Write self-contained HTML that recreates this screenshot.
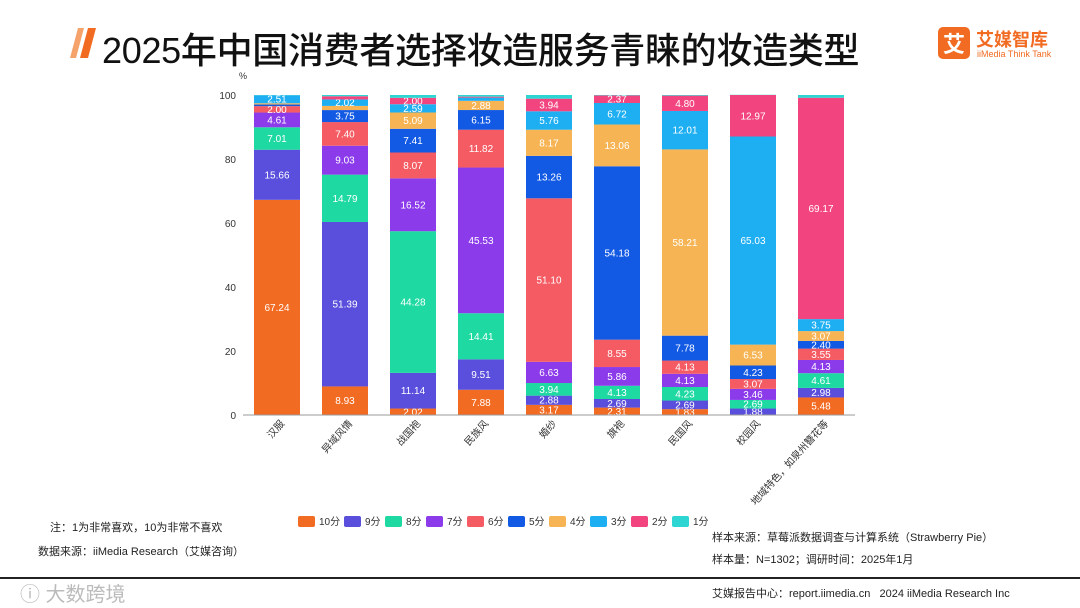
<!DOCTYPE html>
<html><head><meta charset="utf-8">
<style>
body{margin:0;background:#fff;}
#wrap{position:relative;width:1080px;height:608px;overflow:hidden;background:#fff;font-family:"Liberation Sans","Noto Sans CJK SC",sans-serif;}
.t{position:absolute;white-space:nowrap;color:#222;}
</style></head><body>
<div id="wrap">
<svg width="80" height="40" style="position:absolute;left:60px;top:24px">
<polygon points="10,34 18,4 24,4 16,34" fill="#F5A26B"/>
<polygon points="20,34 28,4 36,4 28,34" fill="#F26B22"/>
</svg>
<div class="t" style="left:102px;top:22px;font-size:36px;font-weight:500;color:#111;letter-spacing:-0.3px;">2025年中国消费者选择妆造服务青睐的妆造类型</div>
<div style="position:absolute;left:938px;top:27px;width:32px;height:32px;background:#F26B22;border-radius:5px;color:#fff;font-size:22px;font-weight:bold;text-align:center;line-height:32px;font-family:'Noto Sans CJK SC',sans-serif;">艾</div>
<div class="t" style="left:976px;top:26px;font-size:18px;font-weight:bold;color:#F26B22;">艾媒智库</div>
<div class="t" style="left:977px;top:49px;font-size:9px;color:#F26B22;">iiMedia Think Tank</div>
<svg id="chart" width="1080" height="608" style="position:absolute;left:0;top:0"></svg>
<div class="t" style="left:50px;top:519px;font-size:11px;">注：1为非常喜欢，10为非常不喜欢</div>
<div class="t" style="left:38px;top:543px;font-size:11px;">数据来源：iiMedia Research（艾媒咨询）</div>
<div class="t" style="left:712px;top:529px;font-size:11px;">样本来源：草莓派数据调查与计算系统（Strawberry Pie）</div>
<div class="t" style="left:712px;top:551px;font-size:11px;">样本量：N=1302；调研时间：2025年1月</div>
<div style="position:absolute;left:0;top:577px;width:1080px;height:2px;background:#222;"></div>
<div class="t" style="left:712px;top:585px;font-size:11px;">艾媒报告中心：report.iimedia.cn&nbsp;&nbsp;&nbsp;2024 iiMedia Research Inc</div>
<div class="t" style="left:20px;top:578px;font-size:20px;color:#bbb;">ⓘ 大数跨境</div>
</div>
<script>
const categories=["汉服","异域风情","战国袍","民族风","婚纱","旗袍","民国风","校园风","地域特色，如泉州簪花等"];
const seriesNames=["10分","9分","8分","7分","6分","5分","4分","3分","2分","1分"];
const colors=["#F26B22","#5A4FDC","#1FD9A2","#8B3BEA","#F45B63","#1259E3","#F7B454","#1EAFF2","#F2457F","#2DD5D3"];
const s10=[67.24,8.93,2.02,7.88,3.17,2.31,1.83,0.14,5.48];
const s9=[15.66,51.39,11.14,9.51,2.88,2.69,2.69,1.88,2.98];
const s8=[7.01,14.79,44.28,14.41,3.94,4.13,4.23,2.69,4.61];
const s7=[4.61,9.03,16.52,45.53,6.63,5.86,4.13,3.46,4.13];
const s6=[2.00,7.40,8.07,11.82,51.10,8.55,4.13,3.07,3.55];
const s5=[0.50,3.75,7.41,6.15,13.26,54.18,7.78,4.23,2.40];
const s4=[0.40,1.30,5.09,2.88,8.17,13.06,58.21,6.53,3.07];
const s3=[2.51,2.02,2.59,1.00,5.76,6.72,12.01,65.03,3.75];
const s2=[0.00,1.00,2.00,0.30,3.94,2.37,4.80,12.97,69.17];
const s1=[0.07,0.39,0.88,0.52,1.15,0.13,0.19,0.07,0.86];
const yTicks=[0,20,40,60,80,100];
const series=[s10,s9,s8,s7,s6,s5,s4,s3,s2,s1];
const NS="http://www.w3.org/2000/svg";
const svg=document.getElementById('chart');
const y0=415,y1=95,x0=243,step=68,bw=46;
const yS=v=>y0-(v/100)*(y0-y1);
const xS=i=>x0+step*(i+0.5);
function mk(tag,attrs){const e=document.createElementNS(NS,tag);for(const k in attrs)e.setAttribute(k,attrs[k]);svg.appendChild(e);return e;}
yTicks.forEach(t=>{const e=mk('text',{x:236,y:yS(t)+4,'text-anchor':'end','font-size':10,fill:'#333'});e.textContent=t;

});
const pc=mk('text',{x:239,y:79,'font-size':9,fill:'#333'});pc.textContent='%';


categories.forEach((c,i)=>{let acc=0;const cx=xS(i);
series.forEach((s,j)=>{const v=s[i];const ya=yS(acc),yb=yS(acc+v);
const r=mk('rect',{x:cx-bw/2,y:yb,width:bw,height:Math.max(0,ya-yb),fill:colors[j]});


if(v>=1.8){const tx=mk('text',{x:cx,y:(ya+yb)/2+3.5,'text-anchor':'middle','font-size':10,fill:'#fff'});tx.textContent=v.toFixed(2);

}
acc+=v;});
const lb=mk('text',{x:cx+8,y:424,'text-anchor':'end','font-size':10,fill:'#333',transform:`rotate(-48 ${cx+8} 424)`});lb.textContent=c;

});
const ax=mk('line',{x1:x0,y1:y0,x2:x0+step*9,y2:y0,stroke:'#999','stroke-width':1});


seriesNames.forEach((n,j)=>{const lx=j===0?298:344+(j-1)*41;
const r=mk('rect',{x:lx,y:516,width:17,height:11,rx:2,fill:colors[j]});


const t=mk('text',{x:lx+21,y:525,'font-size':10,fill:'#333'});t.textContent=n;

});
</script>
</body></html>
